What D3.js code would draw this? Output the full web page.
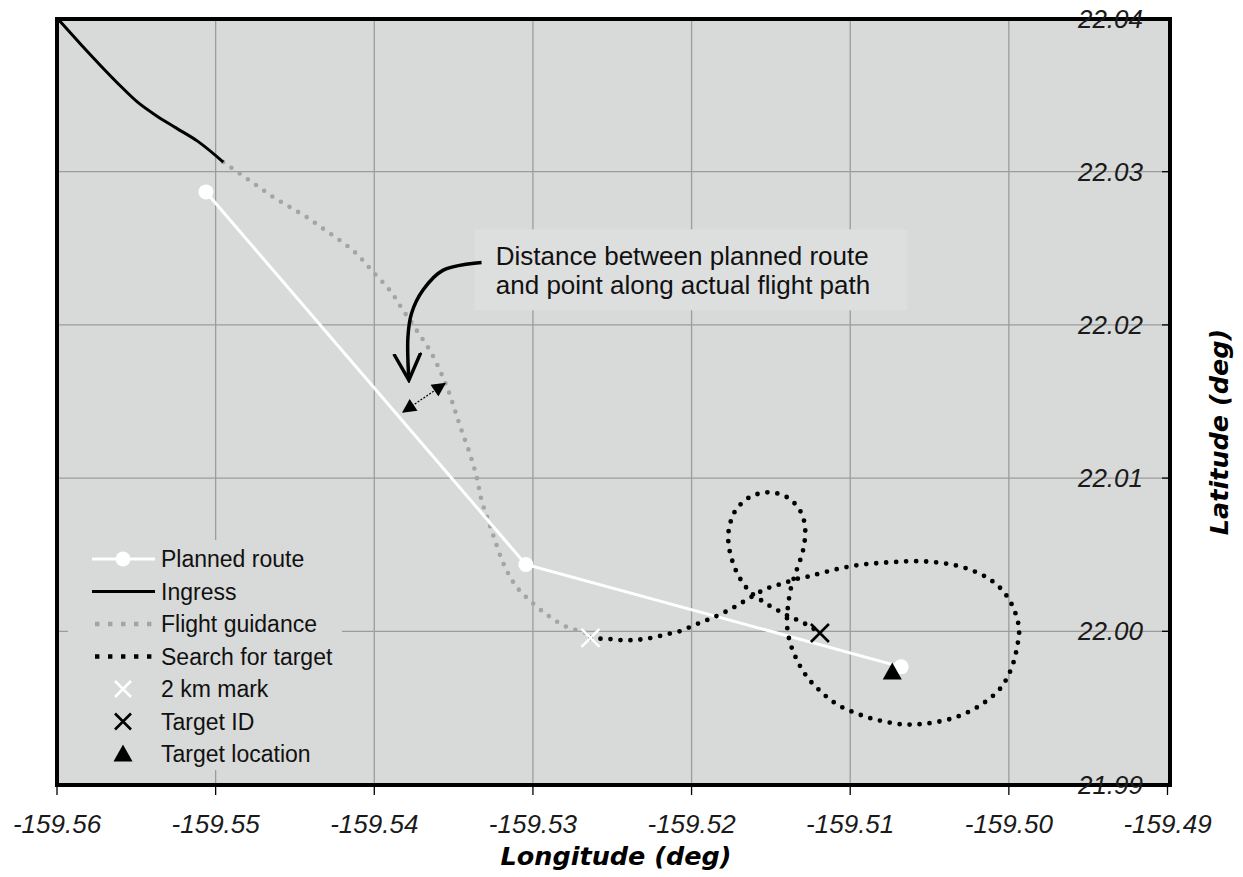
<!DOCTYPE html>
<html>
<head>
<meta charset="utf-8">
<script src="https://cdn.jsdelivr.net/npm/d3@7"></script>
<style>
  body { margin: 0; background: #ffffff; }
  svg { display: block; }
</style>
</head>
<body>
<svg id="chart" width="1243" height="877"></svg>
<script>
// ---- data (longitude, latitude in degrees) ----
const lonTicks = [-159.56, -159.55, -159.54, -159.53, -159.52, -159.51, -159.50, -159.49];
const latTicks = [21.99, 22.00, 22.01, 22.02, 22.03, 22.04];

const plannedRoute = [
  [-159.55061, 22.02868],
  [-159.53045, 22.00436],
  [-159.50679, 21.99768]
];

const ingress = [
  [-159.55991, 22.03993], [-159.55855, 22.03837], [-159.55729, 22.03697],
  [-159.55603, 22.03563], [-159.55490, 22.03452], [-159.55376, 22.03367],
  [-159.55250, 22.03286], [-159.55112, 22.03198], [-159.54952, 22.03063]
];

const flightGuidance = [
  [-159.54952, 22.03063], [-159.54847, 22.02987], [-159.54742, 22.02911],
  [-159.54637, 22.02834], [-159.54532, 22.02769], [-159.54427, 22.02704],
  [-159.54322, 22.02628], [-159.54217, 22.02552], [-159.54112, 22.02465],
  [-159.54007, 22.02345], [-159.53902, 22.02226], [-159.53818, 22.02095],
  [-159.53733, 22.01965], [-159.53650, 22.01834], [-159.53587, 22.01704],
  [-159.53534, 22.01573], [-159.53492, 22.01443], [-159.53450, 22.01312],
  [-159.53398, 22.01160], [-159.53355, 22.01008], [-159.53324, 22.00856],
  [-159.53282, 22.00725], [-159.53240, 22.00595], [-159.53177, 22.00421],
  [-159.53103, 22.00290], [-159.52999, 22.00182], [-159.52894, 22.00095],
  [-159.52788, 22.00029], [-159.52662, 21.99986], [-159.52637, 21.99957]
];

const searchPath = [
  [-159.52637, 21.99957], [-159.52574, 21.99952], [-159.52496, 21.99948],
  [-159.52424, 21.99941], [-159.52357, 21.99944], [-159.52291, 21.99950],
  [-159.52211, 21.99967], [-159.52137, 21.99985], [-159.52063, 22.00004],
  [-159.51991, 22.00037], [-159.51919, 22.00067], [-159.51857, 22.00093],
  [-159.51785, 22.00128], [-159.51722, 22.00163], [-159.51659, 22.00202],
  [-159.51596, 22.00241], [-159.51534, 22.00276], [-159.51475, 22.00297],
  [-159.51415, 22.00315], [-159.51341, 22.00341], [-159.51262, 22.00358],
  [-159.51161, 22.00386], [-159.51049, 22.00414], [-159.50937, 22.00434],
  [-159.50825, 22.00445], [-159.50713, 22.00453], [-159.50590, 22.00458],
  [-159.50466, 22.00451], [-159.50343, 22.00432], [-159.50231, 22.00397],
  [-159.50126, 22.00343], [-159.50040, 22.00267], [-159.49984, 22.00180],
  [-159.49951, 22.00093], [-159.49935, 22.00007], [-159.49946, 21.99909],
  [-159.49973, 21.99790], [-159.50013, 21.99692], [-159.50063, 21.99616],
  [-159.50141, 21.99545], [-159.50231, 21.99486], [-159.50343, 21.99436],
  [-159.50466, 21.99406], [-159.50578, 21.99393], [-159.50679, 21.99393],
  [-159.50780, 21.99410], [-159.50870, 21.99432], [-159.50960, 21.99464],
  [-159.51049, 21.99503], [-159.51128, 21.99555], [-159.51195, 21.99616],
  [-159.51256, 21.99681], [-159.51307, 21.99757], [-159.51345, 21.99833],
  [-159.51374, 21.99909], [-159.51392, 21.99985], [-159.51399, 22.00061],
  [-159.51395, 22.00137], [-159.51386, 22.00213], [-159.51372, 22.00289],
  [-159.51350, 22.00364], [-159.51325, 22.00436], [-159.51303, 22.00505],
  [-159.51289, 22.00575], [-159.51283, 22.00646], [-159.51289, 22.00711],
  [-159.51307, 22.00770], [-159.51341, 22.00824], [-159.51390, 22.00870],
  [-159.51446, 22.00896], [-159.51509, 22.00907], [-159.51570, 22.00900],
  [-159.51628, 22.00879], [-159.51677, 22.00842], [-159.51718, 22.00798],
  [-159.51744, 22.00744], [-159.51762, 22.00683], [-159.51769, 22.00618],
  [-159.51765, 22.00553], [-159.51751, 22.00488], [-159.51731, 22.00423],
  [-159.51704, 22.00362], [-159.51670, 22.00306], [-159.51628, 22.00254],
  [-159.51576, 22.00213], [-159.51520, 22.00174], [-159.51457, 22.00137],
  [-159.51395, 22.00102], [-159.51330, 22.00072], [-159.51262, 22.00037],
  [-159.51191, 21.99989]
];

const mark2km = [-159.52637, 21.99957];
const targetId = [-159.51191, 21.99989];
const targetLocation = [-159.50735, 21.99735];

// callout: distance between route and flight path
const distanceArrow = [[-159.53818, 22.01432], [-159.53555, 22.01617]];
const calloutCurve = [
  [-159.53324, 22.02408], [-159.53568, 22.02356], [-159.53694, 22.02226],
  [-159.53765, 22.02076], [-159.53788, 22.01919], [-159.53782, 22.01639]
];
const calloutLines = ["Distance between planned route", "and point along actual flight path"];
const calloutAnchor = [-159.53234, 22.02389];

const legendLabels = ["Planned route", "Ingress", "Flight guidance", "Search for target",
                      "2 km mark", "Target ID", "Target location"];
const legendKinds = ["route", "ingress", "guidance", "search", "mark2km", "targetId", "targetLoc"];

// ---- layout ----
const svg = d3.select("#chart");
const frame = { left: 57, right: 1170, top: 19, bottom: 785 };
const x = d3.scaleLinear().domain([-159.56, -159.49]).range([57, 1167.5]);
const y = d3.scaleLinear().domain([21.99, 22.04]).range([784.5, 18.5]);

const plotBg = "#d8d9d9";
const gridColor = "#9c9c9c";
const tickFont = "'Liberation Sans', Arial, sans-serif";
const fmt = d => d.toFixed(2);

// plot background
svg.append("rect")
  .attr("x", frame.left).attr("y", frame.top)
  .attr("width", frame.right - frame.left).attr("height", frame.bottom - frame.top)
  .attr("fill", plotBg);

// grid
const grid = svg.append("g").attr("stroke", gridColor).attr("stroke-width", 1.3);
grid.selectAll("line.v").data(lonTicks.slice(1, -1)).join("line")
  .attr("class", "v")
  .attr("x1", d => x(d)).attr("x2", d => x(d))
  .attr("y1", frame.top).attr("y2", frame.bottom);
grid.selectAll("line.h").data(latTicks.slice(1, -1)).join("line")
  .attr("class", "h")
  .attr("x1", frame.left).attr("x2", frame.right)
  .attr("y1", d => y(d)).attr("y2", d => y(d));

// callout text with its background panel
const callout = svg.append("g");
const calloutText = callout.append("text")
  .attr("x", x(calloutAnchor[0])).attr("y", y(calloutAnchor[1]))
  .attr("font-family", "'Liberation Sans', Arial, sans-serif")
  .attr("font-size", 26).attr("fill", "#111");
calloutText.selectAll("tspan").data(calloutLines).join("tspan")
  .attr("x", x(calloutAnchor[0]))
  .attr("dy", (d, i) => i === 0 ? 0 : 29)
  .text(d => d);
const cb = calloutText.node().getBBox();
callout.insert("rect", "text")
  .attr("x", cb.x - 21).attr("y", cb.y - 12)
  .attr("width", cb.width + 58).attr("height", cb.height + 22)
  .attr("fill", "#dddede");

// legend panel
const legend = svg.append("g").attr("transform", `translate(${frame.left + 11},${frame.bottom - 245})`);
legend.append("rect").attr("width", 274).attr("height", 230).attr("fill", plotBg);

// series
const line = d3.line().x(d => x(d[0])).y(d => y(d[1])).curve(d3.curveCatmullRom.alpha(0.5));
const smoothX = d3.line().x(d => x(d[0])).y(d => y(d[1])).curve(d3.curveMonotoneX);
const straight = d3.line().x(d => x(d[0])).y(d => y(d[1]));

svg.append("path").datum(flightGuidance).attr("d", line)
  .attr("fill", "none").attr("stroke", "#a4a4a4").attr("stroke-width", 4.6)
  .attr("stroke-linecap", "round").attr("stroke-dasharray", "0 10");

svg.append("path").datum(plannedRoute).attr("d", straight)
  .attr("fill", "none").attr("stroke", "#ffffff").attr("stroke-width", 3);
svg.selectAll("circle.wp").data(plannedRoute).join("circle")
  .attr("class", "wp")
  .attr("cx", d => x(d[0])).attr("cy", d => y(d[1])).attr("r", 7.5).attr("fill", "#ffffff");

svg.append("path").datum(searchPath).attr("d", line)
  .attr("fill", "none").attr("stroke", "#000000").attr("stroke-width", 4.8)
  .attr("stroke-linecap", "round").attr("stroke-dasharray", "0 10");

svg.append("path").datum(ingress).attr("d", smoothX)
  .attr("fill", "none").attr("stroke", "#000000").attr("stroke-width", 3);

// markers
const xMark = s => `M${-s},${-s}L${s},${s}M${-s},${s}L${s},${-s}`;
const triangle = "M0,-9.5L9.5,7.5L-9.5,7.5Z";
svg.append("path").attr("d", xMark(9))
  .attr("transform", `translate(${x(mark2km[0])},${y(mark2km[1])})`)
  .attr("stroke", "#ffffff").attr("stroke-width", 2.6).attr("fill", "none");
svg.append("path").attr("d", xMark(9))
  .attr("transform", `translate(${x(targetId[0])},${y(targetId[1])})`)
  .attr("stroke", "#000000").attr("stroke-width", 2.6).attr("fill", "none");
svg.append("path").attr("d", triangle)
  .attr("transform", `translate(${x(targetLocation[0])},${y(targetLocation[1])})`)
  .attr("fill", "#000000");

// callout arrows
const defs = svg.append("defs");
defs.append("marker").attr("id", "headFill")
  .attr("viewBox", "0 0 10 10").attr("refX", 9).attr("refY", 5)
  .attr("markerUnits", "userSpaceOnUse").attr("markerWidth", 15).attr("markerHeight", 14)
  .attr("orient", "auto-start-reverse")
  .append("path").attr("d", "M0,0L10,5L0,10Z").attr("fill", "#000");
svg.append("path").datum(distanceArrow).attr("d", straight)
  .attr("stroke", "#000").attr("stroke-width", 1.2).attr("stroke-dasharray", "2 1.5")
  .attr("fill", "none")
  .attr("marker-start", "url(#headFill)").attr("marker-end", "url(#headFill)");

defs.append("marker").attr("id", "headOpen")
  .attr("viewBox", "0 0 20 20").attr("refX", 18).attr("refY", 10)
  .attr("markerUnits", "userSpaceOnUse").attr("markerWidth", 30).attr("markerHeight", 30)
  .attr("orient", "auto")
  .append("path").attr("d", "M0,1L18,10L0,19")
  .attr("fill", "none").attr("stroke", "#000").attr("stroke-width", 2.3)
  .attr("stroke-linejoin", "miter");
svg.append("path").datum(calloutCurve).attr("d", line)
  .attr("fill", "none").attr("stroke", "#000").attr("stroke-width", 3.5)
  .attr("marker-end", "url(#headOpen)");

// frame
svg.append("rect")
  .attr("x", frame.left).attr("y", frame.top)
  .attr("width", frame.right - frame.left).attr("height", frame.bottom - frame.top)
  .attr("fill", "none").attr("stroke", "#000").attr("stroke-width", 4);

// x axis: ticks below the frame
const xAxis = svg.append("g");
xAxis.selectAll("line").data(lonTicks).join("line")
  .attr("x1", d => x(d)).attr("x2", d => x(d))
  .attr("y1", frame.bottom + 2).attr("y2", frame.bottom + 10)
  .attr("stroke", "#000").attr("stroke-width", 1.3);
xAxis.selectAll("text").data(lonTicks).join("text")
  .attr("x", d => x(d)).attr("y", 824)
  .attr("text-anchor", "middle").attr("dominant-baseline", "central")
  .attr("font-family", tickFont).attr("font-style", "italic").attr("font-size", 26)
  .attr("fill", "#1a1a1a")
  .text(fmt);

// y axis: ticks and labels inside the right edge
const yAxis = svg.append("g");
yAxis.selectAll("line").data(latTicks).join("line")
  .attr("x1", frame.right - 8).attr("x2", frame.right - 2)
  .attr("y1", d => y(d)).attr("y2", d => y(d))
  .attr("stroke", "#000").attr("stroke-width", 1.3);
yAxis.selectAll("text").data(latTicks).join("text")
  .attr("x", 1143).attr("y", d => y(d))
  .attr("text-anchor", "end").attr("dominant-baseline", "central")
  .attr("font-family", tickFont).attr("font-style", "italic").attr("font-size", 26)
  .attr("fill", "#1a1a1a")
  .text(fmt);

// axis titles
svg.append("text")
  .attr("x", 616).attr("y", 865)
  .attr("text-anchor", "middle")
  .attr("font-family", "'DejaVu Sans', sans-serif").attr("font-weight", "bold")
  .attr("font-style", "italic").attr("font-size", 25.5).attr("fill", "#000")
  .text("Longitude (deg)");
svg.append("text")
  .attr("transform", "translate(1219,432) rotate(-90)")
  .attr("text-anchor", "middle").attr("dominant-baseline", "central")
  .attr("font-family", "'DejaVu Sans', sans-serif").attr("font-weight", "bold")
  .attr("font-style", "italic").attr("font-size", 25.5).attr("fill", "#000")
  .text("Latitude (deg)");

// legend entries
const rows = legend.selectAll("g.row").data(legendKinds).join("g")
  .attr("class", "row")
  .attr("transform", (d, i) => `translate(0,${19 + i * 32.5})`);
rows.each(function (kind, i) {
  const g = d3.select(this);
  const x0 = 24, x1 = 87, xm = 55;
  if (kind === "route") {
    g.append("line").attr("x1", x0).attr("x2", x1).attr("stroke", "#fff").attr("stroke-width", 3);
    g.append("circle").attr("cx", xm).attr("r", 7.5).attr("fill", "#fff");
  } else if (kind === "ingress") {
    g.append("line").attr("x1", x0).attr("x2", x1).attr("stroke", "#000").attr("stroke-width", 3);
  } else if (kind === "guidance" || kind === "search") {
    g.append("line").attr("x1", x0 + 3).attr("x2", x1)
      .attr("stroke", kind === "guidance" ? "#a4a4a4" : "#000")
      .attr("stroke-width", 4.4).attr("stroke-dasharray", "4.4 8.6");
  } else if (kind === "mark2km" || kind === "targetId") {
    g.append("path").attr("d", xMark(8)).attr("transform", `translate(${xm},0)`)
      .attr("stroke", kind === "mark2km" ? "#fff" : "#000").attr("stroke-width", 2.6)
      .attr("fill", "none");
  } else {
    g.append("path").attr("d", triangle).attr("transform", `translate(${xm},0)`).attr("fill", "#000");
  }
  g.append("text").attr("x", 93).attr("y", 0)
    .attr("dominant-baseline", "central")
    .attr("font-family", "'Liberation Sans', Arial, sans-serif").attr("font-size", 23)
    .attr("fill", "#111")
    .text(legendLabels[i]);
});
</script>
</body>
</html>
